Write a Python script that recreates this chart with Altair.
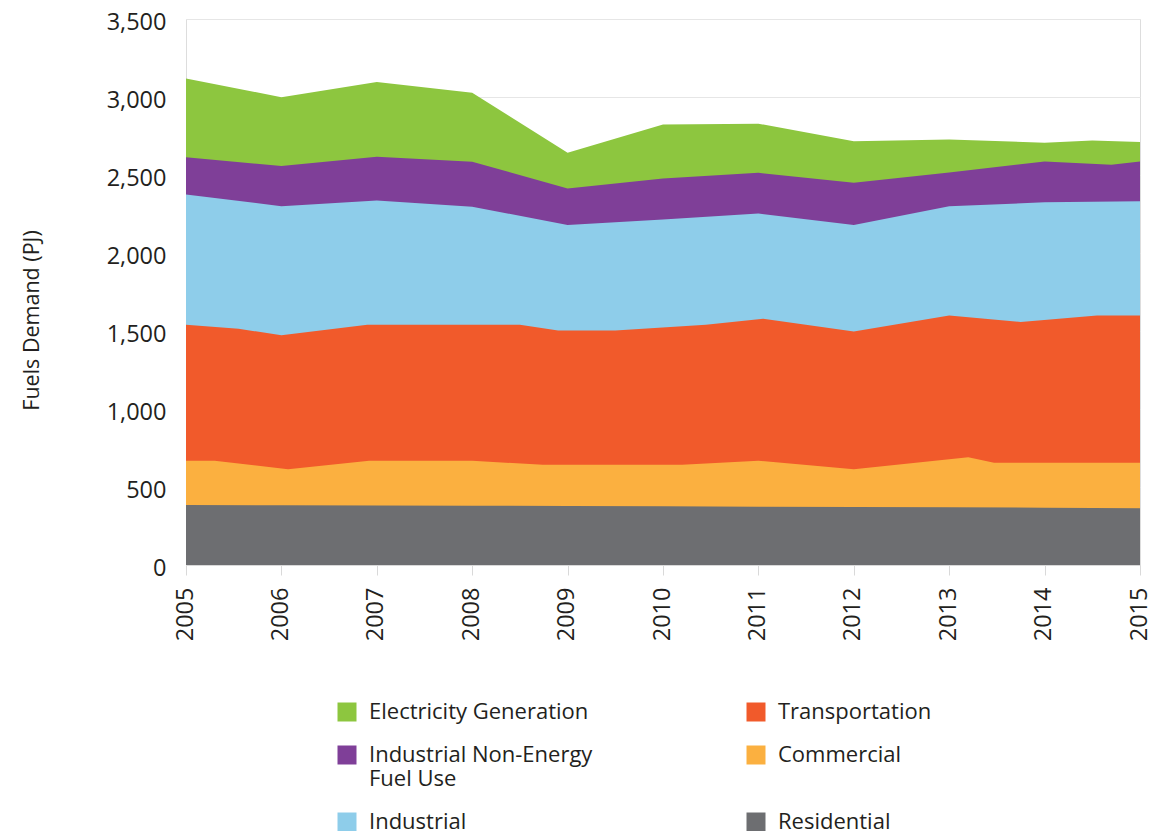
import altair as alt
import pandas as pd

SERIES = ["Electricity Generation", "Industrial Non-Energy Fuel Use", "Industrial",
          "Transportation", "Commercial", "Residential"]
COLORS = ["#8dc63f", "#7f3f98", "#8ecdea", "#f15a2b", "#fbb040", "#6d6e71"]

# Upper edge of each band (cumulative stack height, PJ)
elec_years = [2005, 2006, 2007, 2008, 2009, 2010, 2011, 2012, 2013, 2014, 2014.5, 2015]
elec_top = [3119, 2999, 3096, 3028, 2642, 2824, 2829, 2717, 2728, 2707, 2721, 2711]

nonenergy_years = [2005, 2006, 2007, 2008, 2009, 2010, 2011, 2012, 2013, 2014, 2014.7, 2015]
nonenergy_top = [2614, 2557, 2617, 2585, 2413, 2478, 2514, 2450, 2516, 2587, 2565, 2587]

industrial_years = [2005, 2006, 2007, 2008, 2009, 2010, 2011, 2012, 2013, 2014, 2015]
industrial_top = [2375, 2300, 2336, 2296, 2180, 2215, 2253, 2180, 2300, 2325, 2332]

transport_years = [2005, 2005.55, 2006, 2006.9, 2008.5, 2008.9, 2009.5, 2010.45, 2011.05,
                   2012, 2013, 2013.75, 2014.55, 2015]
transport_top = [1540, 1515, 1472, 1540, 1540, 1504, 1504, 1540, 1579,
                 1497, 1600, 1558, 1600, 1600]

commercial_years = [2005, 2005.3, 2006.07, 2006.92, 2008, 2008.74, 2010.2, 2011, 2012,
                    2013.2, 2013.47, 2015]
commercial_top = [668, 668, 614, 668, 668, 642, 642, 668, 614, 691, 655, 655]

residential_years = [2005, 2006, 2007, 2008, 2009, 2010, 2011, 2012, 2013, 2014, 2015]
residential_top = [385, 383, 381, 380, 378, 376, 374, 372, 370, 367, 364]

# drawing order: largest band first, smaller ones painted over it
layers = [
    ("Electricity Generation", elec_years, elec_top),
    ("Industrial Non-Energy Fuel Use", nonenergy_years, nonenergy_top),
    ("Industrial", industrial_years, industrial_top),
    ("Transportation", transport_years, transport_top),
    ("Commercial", commercial_years, commercial_top),
    ("Residential", residential_years, residential_top),
]

FONT = "Open Sans"
TXT = "#231f20"

color = alt.Color(
    "series:N",
    scale=alt.Scale(domain=SERIES, range=COLORS),
    legend=alt.Legend(
        title=None, orient="none", legendX=150, legendY=682, columns=2,
        symbolType="square", symbolSize=361, symbolStrokeWidth=0, symbolOpacity=1,
        labelFont=FONT, labelFontSize=22, labelColor=TXT, labelOffset=11,
        labelLimit=400, columnPadding=152, rowPadding=21, padding=0,
        labelExpr="datum.label == 'Industrial Non-Energy Fuel Use' ? ['Industrial Non-Energy', 'Fuel Use'] : datum.label",
    ),
)

x = alt.X("year:Q", scale=alt.Scale(domain=[2005, 2015], nice=False, zero=False),
          axis=alt.Axis(title=None, values=list(range(2005, 2016)), format="d",
                        labelAngle=-90, labelFont=FONT, labelFontSize=23.5, labelColor=TXT,
                        labelPadding=12, labelOffset=-1, tickSize=10, tickColor="#d9d9d9",
                        domainColor="#d9d9d9", grid=False))
y = alt.Y("top:Q", scale=alt.Scale(domain=[0, 3500], nice=False),
          axis=alt.Axis(title="Fuels Demand (PJ)", values=list(range(0, 3501, 500)),
                        format=",d", labelFont=FONT, labelFontSize=23.5, labelColor=TXT,
                        labelPadding=20, labelOffset=3, ticks=False, domain=False,
                        gridColor="#e6e6e6",
                        titleFont=FONT, titleFontSize=21.5, titleFontWeight="normal",
                        titleColor=TXT, titleAngle=-90, titleX=-148, titleY=301,
                        titleAlign="center", titleBaseline="alphabetic"))

charts = []
for name, yrs, vals in layers:
    df = pd.DataFrame({"year": yrs, "top": vals, "series": name})
    charts.append(
        alt.Chart(df).mark_area(opacity=1, interpolate="linear").encode(x=x, y=y, color=color)
    )

chart = alt.layer(*charts).properties(
    width=954, height=546,
    autosize=alt.AutoSizeParams(type="none"),
    padding={"left": 178, "top": 11, "right": 8, "bottom": 266},
).configure_view(stroke="#e0e0e0", strokeWidth=1).configure(font=FONT)

chart.save("out.html", embed_options={"renderer": "svg", "actions": False})
